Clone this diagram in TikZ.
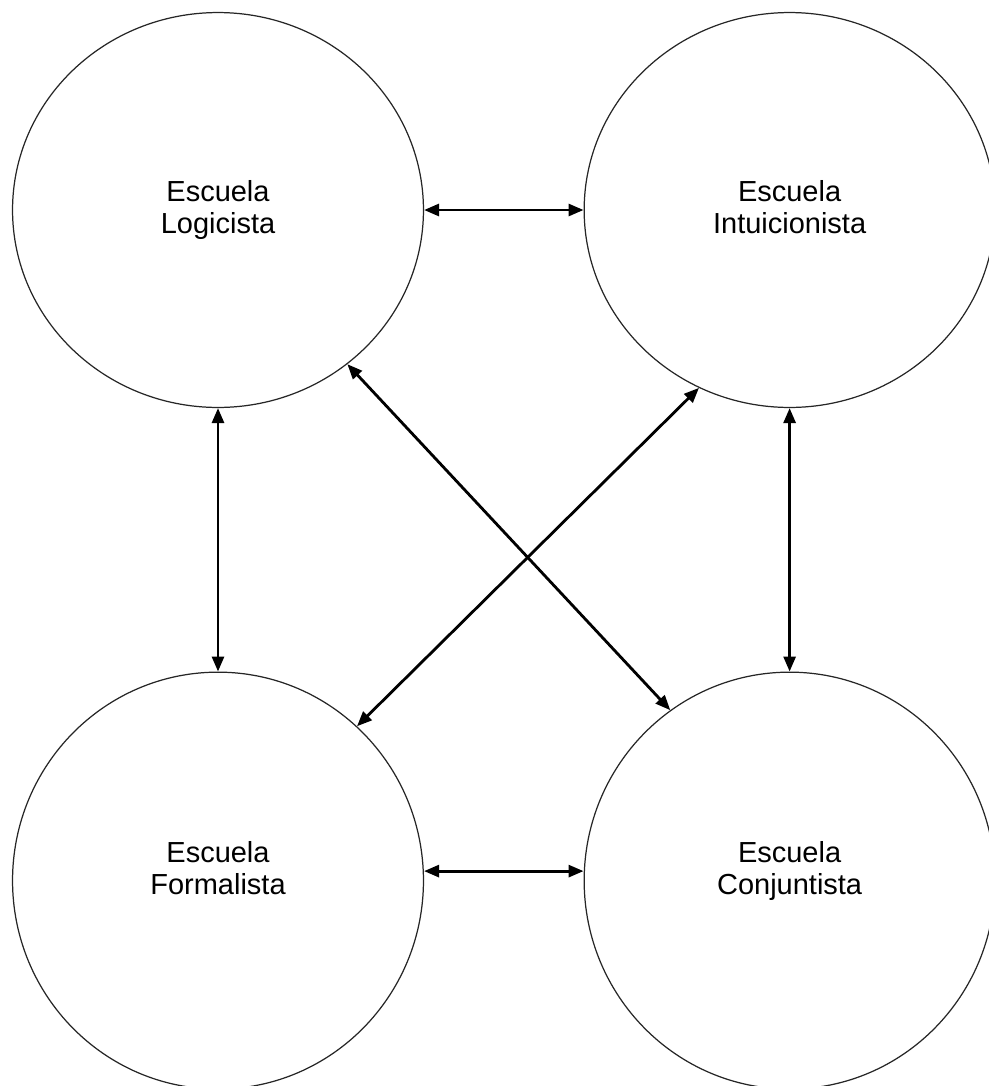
\documentclass[tikz,border=0pt]{standalone}
\usepackage{fontspec}
\setmainfont{Liberation Sans}
\usetikzlibrary{shapes.geometric,arrows.meta,positioning}
\tikzstyle{ELLIPSE_1} = [ellipse, draw=black!85, line width=0.7pt, minimum width=8.22cm, minimum height=7.9cm, align=center, font=\fontsize{16.5}{18.2}\selectfont]
\tikzstyle{ELLIPSE_2} = [ELLIPSE_1, minimum height=8.34cm]
\tikzstyle{TEXT_1} = [align=center, inner sep=0pt, font=\fontsize{16.5}{18.2}\selectfont]
\tikzstyle{ARROW} = [draw, line width=1.6pt, <->, >={Triangle[length=0.3cm,width=0.24cm]}]

\begin{document}
\begin{tikzpicture}[x=0.02cm, y=-0.02cm]
\useasboundingbox (0,0) rectangle (988,1086);
% Place node
\node [ELLIPSE_1] (LOGIC) at (218,210) {Escuela\\Logicista\vphantom{g}};
\node [ELLIPSE_1, right=3.19cm of LOGIC] (INTUI) {Escuela\\Intuicionista\vphantom{g}};
\node [ELLIPSE_2, below=5.27cm of LOGIC, label={[TEXT_1, name=FORMAL_TXT, yshift=0.2cm]center:Escuela\\Formalista\vphantom{g}}] (FORMAL) {};
\node [ELLIPSE_2, right=3.19cm of FORMAL, label={[TEXT_1, name=CONJ_TXT, yshift=0.2cm]center:Escuela\\Conjuntista\vphantom{g}}] (CONJ) {};
% LINES and ARROWS
\path [ARROW] (LOGIC.east) -- (INTUI.west);
\path [ARROW] ([yshift=0.19cm]FORMAL.east) -- ([yshift=0.19cm]CONJ.west);
\path [ARROW] (LOGIC.south) -- (FORMAL.north);
\path [ARROW] (INTUI.south) -- (CONJ.north);
\path [ARROW] (LOGIC.-50) -- (CONJ.125);
\path [ARROW] (INTUI.-117.5) -- (FORMAL.48.9);
\end{tikzpicture}
\end{document}
